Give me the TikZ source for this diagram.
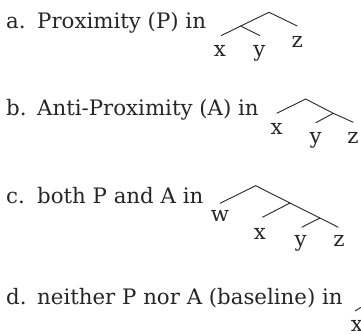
\documentclass[tikz,border=0pt]{standalone}
\usepackage{fontspec}
\setmainfont{DejaVu Serif}
\begin{document}
\begin{tikzpicture}[x=1bp,y=-1bp,
  txt/.style={inner sep=0pt,anchor=base west,font=\fontsize{21.3bp}{24bp}\selectfont,text=black!85},
  leaf/.style={inner sep=0pt,anchor=base,font=\fontsize{21.3bp}{24bp}\selectfont,text=black!85},
  br/.style={line width=0.9bp,draw=black!85}]
\useasboundingbox (0,0) rectangle (361,334);
\clip (0,0) rectangle (361,334);
% labels
\node[txt] (la) at (6,28.3) {a.};
\node[txt] (ta) at (37,28.3) {Proximity (P) in};
\node[txt] (lb) at (6,115) {b.};
\node[txt] (tb) at (37,115) {Anti-Proximity (A) in};
\node[txt] (lc) at (6,203) {c.};
\node[txt] (tc) at (37,203) {both P and A in};
\node[txt] (ld) at (6,304) {d.};
\node[txt] (td) at (37,304) {neither P nor A (baseline) in};
% tree a
\coordinate (ra) at (269,12.3);
\coordinate (ia) at (240.7,26);
\coordinate (ea1) at (221,35.7);
\coordinate (ea2) at (260,35.7);
\coordinate (ea3) at (297.3,26);
\draw[br] (ea1) -- (ia) -- (ra) -- (ea3);
\draw[br] (ia) -- (ea2);
\node[leaf] (xa) at (220,56.7) {x};
\node[leaf] (ya) at (259.3,56.7) {y};
\node[leaf] (za) at (297.3,47.7) {z};
% tree b
\coordinate (rb) at (305.7,99);
\coordinate (ib) at (333.3,113.3);
\coordinate (eb1) at (276.7,113.3);
\coordinate (eb2) at (315.7,122.7);
\coordinate (eb3) at (353.3,122.3);
\draw[br] (eb1) -- (rb) -- (ib) -- (eb3);
\draw[br] (ib) -- (eb2);
\node[leaf] (xb) at (276.7,134.3) {x};
\node[leaf] (yb) at (315.7,143.5) {y};
\node[leaf] (zb) at (353,143.5) {z};
% tree c
\coordinate (rc) at (255.7,185.7);
\coordinate (ic1) at (290,203);
\coordinate (ic2) at (320,218);
\coordinate (ec0) at (220,203.3);
\coordinate (ec1) at (262.3,217.3);
\coordinate (ec2) at (301.7,227.3);
\coordinate (ec3) at (338.3,227.3);
\draw[br] (ec0) -- (rc) -- (ic1) -- (ic2) -- (ec3);
\draw[br] (ic1) -- (ec1);
\draw[br] (ic2) -- (ec2);
\node[leaf] (wc) at (220,221.7) {w};
\node[leaf] (xc) at (260,239) {x};
\node[leaf] (yc) at (300.7,246.7) {y};
\node[leaf] (zc) at (339,246.7) {z};
% tree d (cut off)
\coordinate (ed1) at (355,311);
\coordinate (id) at (370,302);
\draw[br] (ed1) -- (id);
\node[leaf] (xd) at (357,331) {x};
\end{tikzpicture}
\end{document}
